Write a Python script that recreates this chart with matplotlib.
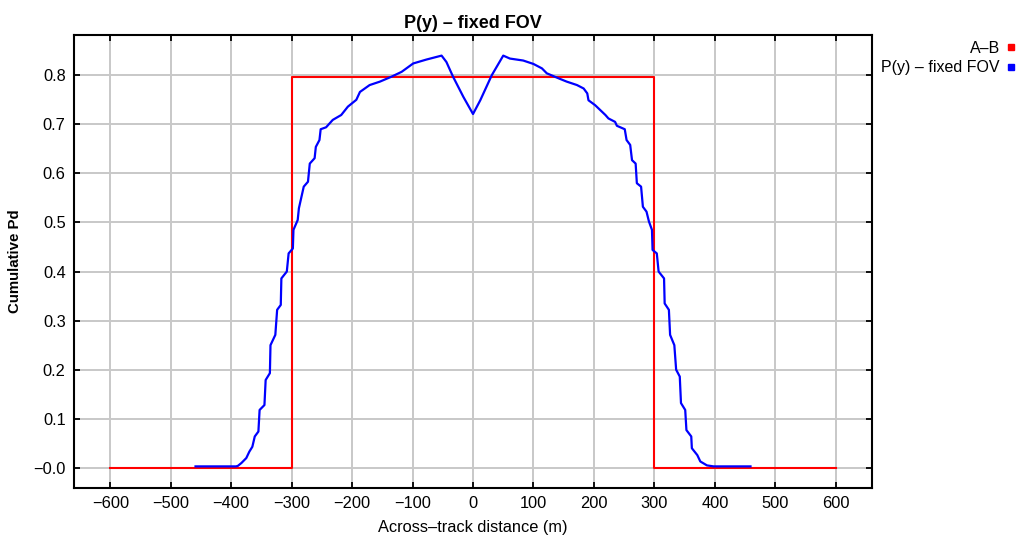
import matplotlib
matplotlib.use("Agg")
import matplotlib.pyplot as plt
from matplotlib.lines import Line2D

plt.rcParams['font.family'] = ['Liberation Sans', 'DejaVu Sans']

# Red reference: A-B step
ab_x = [-600, -300, -300, 300, 300, 600]
ab_y = [0.0, 0.0, 0.797, 0.797, 0.0, 0.0]

# Blue: P(y) - fixed FOV
pfov_x = [-459, -392, -389, -383, -375, -370, -365, -361, -355, -353, -345, -343,
          -336, -335, -327, -324, -318, -317, -308, -305, -298, -297, -290, -288,
          -280, -273, -270, -262, -260, -254, -252, -243, -232, -218, -207, -193,
          -187, -171, -154, -135, -118, -99, -77, -52, -44, -33, -16, 0,
          12, 31, 50, 61, 83, 100, 114, 122, 141, 155, 172, 183, 189, 191, 202,
          219, 224, 235, 238, 251, 254, 260, 263, 269, 271, 278, 281, 287, 291,
          296, 297, 304, 307, 316, 317, 324, 326, 333, 336, 342, 344, 351, 353,
          361, 362, 371, 376, 387, 398, 459]
pfov_y = [0.003, 0.003, 0.004, 0.010, 0.020, 0.033, 0.043, 0.064, 0.074, 0.118, 0.128, 0.179,
          0.193, 0.250, 0.271, 0.322, 0.332, 0.386, 0.400, 0.437, 0.447, 0.485, 0.505, 0.529,
          0.573, 0.583, 0.620, 0.631, 0.654, 0.668, 0.690, 0.694, 0.709, 0.719, 0.736, 0.750,
          0.766, 0.780, 0.787, 0.797, 0.807, 0.824, 0.832, 0.840, 0.827, 0.797, 0.756, 0.721,
          0.749, 0.800, 0.840, 0.834, 0.830, 0.823, 0.814, 0.804, 0.794, 0.787, 0.780, 0.773, 0.763, 0.749, 0.739,
          0.719, 0.712, 0.705, 0.697, 0.690, 0.668, 0.658, 0.627, 0.620, 0.580, 0.573, 0.532, 0.522, 0.502,
          0.485, 0.444, 0.437, 0.400, 0.386, 0.335, 0.322, 0.271, 0.250, 0.200, 0.186, 0.132, 0.118, 0.077,
          0.064, 0.040, 0.026, 0.013, 0.005, 0.003, 0.003]

x_ticks = [-600, -500, -400, -300, -200, -100, 0, 100, 200, 300, 400, 500, 600]
y_ticks = [0.0, 0.1, 0.2, 0.3, 0.4, 0.5, 0.6, 0.7, 0.8]
y_tick_labels = ["\u22120.0", "0.1", "0.2", "0.3", "0.4", "0.5", "0.6", "0.7", "0.8"]

fig = plt.figure(figsize=(10.18, 5.41), dpi=100)
ax = fig.add_axes([0.0727, 0.098, 0.7839, 0.8373])

ax.grid(True, color="#c8c8c8", linewidth=1.4, zorder=0)
ax.set_axisbelow(True)

ax.plot(ab_x, ab_y, color="#ff0000", linewidth=1.5, zorder=3)
ax.plot(pfov_x, pfov_y, color="#0000ff", linewidth=1.6, zorder=4)

ax.set_xlim(-660, 660)
ax.set_ylim(-0.041, 0.882)
ax.set_xticks(x_ticks)
ax.set_yticks(y_ticks)
ax.set_yticklabels(y_tick_labels)

ax.tick_params(direction="in", length=4, width=1.3, top=True, right=True,
               labelsize=11.8, colors="black", pad=6)
for s in ax.spines.values():
    s.set_linewidth(1.5)
    s.set_color("black")

ax.set_title("P(y) \u2013 fixed FOV", fontsize=13, fontweight="bold", pad=5)
ax.set_xlabel("Across\u2013track distance (m)", fontsize=11.8, labelpad=6)
ax.set_ylabel("Cumulative Pd", fontsize=10.8, fontweight="bold", labelpad=8)

handles = [Line2D([], [], marker="s", linestyle="none", color="#ff0000", markersize=5),
           Line2D([], [], marker="s", linestyle="none", color="#0000ff", markersize=5)]
fig.legend(handles, ["A\u2013B", "P(y) \u2013 fixed FOV"], loc="upper right",
           bbox_to_anchor=(0.998, 0.925), frameon=False, markerfirst=False,
           handlelength=0.6, handletextpad=0.4, labelspacing=0.3, fontsize=11.5,
           borderaxespad=0, borderpad=0)

fig.savefig("out.png", dpi=100)
